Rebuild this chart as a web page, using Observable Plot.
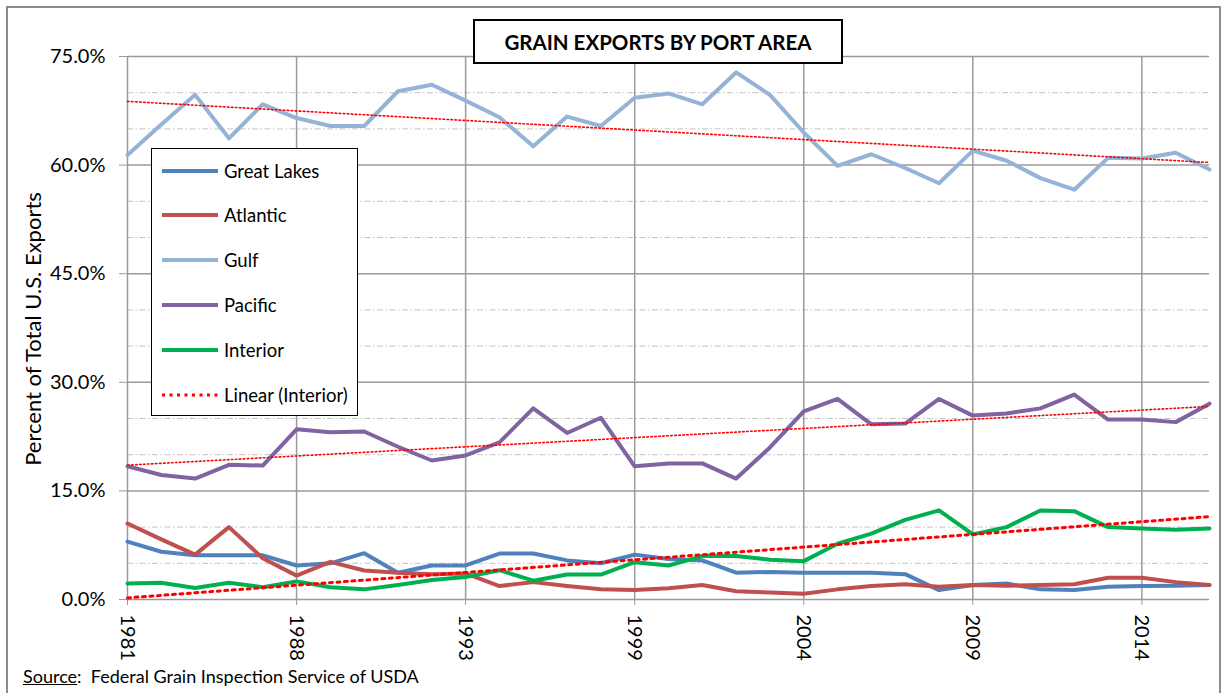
<!DOCTYPE html>
<html><head><meta charset="utf-8">
<script src="https://cdn.jsdelivr.net/npm/d3@7"></script>
<script src="https://cdn.jsdelivr.net/npm/@observablehq/plot@0.6"></script>
<style>
body{margin:0;background:#fff;font-family:Lato,"Open Sans",sans-serif;color:#000;}
#wrap{position:relative;width:1223px;height:693px;overflow:hidden;background:#fff;}
#chart{position:absolute;left:0;top:0;}
#frame{position:absolute;left:6px;top:6px;width:1215px;height:720px;border:2px solid #8c8c8c;box-sizing:border-box;pointer-events:none;}
#title{position:absolute;left:473px;top:19px;width:370px;height:45px;border:2px solid #000;box-sizing:border-box;background:#fff;font-weight:bold;font-size:20.5px;display:flex;align-items:center;justify-content:center;}
#legend{position:absolute;left:151px;top:148px;width:207px;height:268px;border:1.5px solid #000;background:#fff;box-sizing:border-box;}
.item{position:absolute;left:9px;height:22px;display:flex;align-items:center;font-size:18.5px;white-space:nowrap;}
.item svg{margin-right:5px;}
#ylabel{position:absolute;left:32px;top:329px;transform:translate(-50%,-50%) rotate(-90deg);font-size:22px;white-space:nowrap;}
#source{position:absolute;left:23px;top:665px;font-size:18px;white-space:nowrap;}
</style>
</head><body>
<div id="wrap">
  <div id="chart"></div>
  <div id="title">GRAIN EXPORTS BY PORT AREA</div>
  <div id="legend"></div>
  <div id="ylabel">Percent of Total U.S. Exports</div>
  <div id="source"><u>Source</u>:&nbsp; Federal Grain Inspection Service of USDA</div>
  <div id="frame"></div>
</div>
<script>
// ---- Data (percent of total U.S. grain exports) ----
const xTickIndex = [0, 5, 10, 15, 20, 25, 30];
const xTickLabels = ["1981", "1988", "1993", "1999", "2004", "2009", "2014"];
const yMajor = [0, 15, 30, 45, 60, 75];
const yMinor = [5, 10, 20, 25, 35, 40, 50, 55, 65, 70];

const seriesNames = ["Great Lakes", "Atlantic", "Gulf", "Pacific", "Interior"];
const greatLakes = [8.0,6.6,6.1,6.1,6.1,4.7,5.0,6.4,3.7,4.7,4.7,6.35,6.35,5.4,5.0,6.2,5.6,5.4,3.7,3.8,3.7,3.7,3.7,3.5,1.3,2.0,2.2,1.4,1.3,1.75,1.85,1.9,2.0];
const atlantic   = [10.5,8.3,6.2,10.0,5.7,3.3,5.2,4.0,3.7,3.5,3.6,1.85,2.4,1.85,1.4,1.3,1.55,2.0,1.15,0.95,0.8,1.4,1.85,2.1,1.75,2.0,1.9,2.0,2.1,3.0,3.0,2.4,2.0];
const gulf       = [61.4,65.6,69.7,63.7,68.4,66.5,65.4,65.4,70.2,71.1,68.9,66.6,62.6,66.7,65.4,69.3,69.9,68.4,72.8,69.7,64.5,59.9,61.5,59.6,57.5,62.0,60.6,58.2,56.6,61.0,60.9,61.7,59.4];
const pacific    = [18.4,17.2,16.7,18.6,18.5,23.5,23.1,23.2,21.1,19.2,19.9,21.7,26.4,23.0,25.1,18.4,18.8,18.8,16.7,21.0,26.0,27.7,24.2,24.3,27.7,25.4,25.7,26.4,28.3,24.85,24.85,24.5,27.05];
const interior   = [2.2,2.3,1.6,2.3,1.7,2.5,1.7,1.4,2.0,2.7,3.1,4.05,2.6,3.45,3.45,5.15,4.7,6.0,6.0,5.5,5.3,7.7,9.1,11.0,12.3,9.0,10.0,12.3,12.2,10.0,9.8,9.65,9.8];
const trendLabel = "Linear (Interior)";

// ---- Styles ----
const seriesValues = [greatLakes, atlantic, gulf, pacific, interior];
const seriesColors = ["#4F81BD", "#C0504D", "#95B3D7", "#8064A2", "#00B050"];
const trendColor = "#FF0000";
const thinTrend = {stroke: trendColor, strokeWidth: 1.6, strokeDasharray: "1.6,2.4"};
const thickTrend = {stroke: trendColor, strokeWidth: 3, strokeDasharray: "3,4.5"};

const X = (d, i) => i, Y = d => d;

const chart = Plot.plot({
  width: 1223,
  height: 693,
  marginLeft: 127,
  marginRight: 14,
  marginTop: 56,
  marginBottom: 94,
  x: {domain: [0, 32]},
  y: {domain: [0, 75]},
  style: {fontFamily: "Lato, 'Open Sans', sans-serif", fontSize: "20px", background: "transparent", color: "#000"},
  marks: [
    Plot.ruleY(yMinor, {stroke: "#c4c4c4", strokeWidth: 1, strokeDasharray: "6,2.5,1.5,2.5"}),
    Plot.ruleY(yMajor, {stroke: "#9a9a9a", strokeWidth: 1.5}),
    Plot.ruleX(xTickIndex, {stroke: "#9a9a9a", strokeWidth: 1.5}),
    Plot.axisY({ticks: yMajor, tickFormat: d => d.toFixed(1) + "%", tickSize: 8, tickPadding: 14, stroke: "#9a9a9a", fill: "#000", label: null, fontSize: 20}),
    Plot.axisX({ticks: xTickIndex, tickFormat: i => xTickLabels[xTickIndex.indexOf(i)], tickRotate: 90, tickSize: 6, tickPadding: 9, stroke: "#9a9a9a", fill: "#000", label: null, fontSize: 20}),
    ...seriesValues.map((vals, k) => Plot.line(vals, {x: X, y: Y, stroke: seriesColors[k], strokeWidth: 4, strokeLinejoin: "round"})),
    Plot.linearRegressionY(gulf, {x: X, y: Y, ci: 0, ...thinTrend}),
    Plot.linearRegressionY(pacific, {x: X, y: Y, ci: 0, ...thinTrend}),
    Plot.linearRegressionY(interior, {x: X, y: Y, ci: 0, ...thickTrend})
  ]
});
document.getElementById("chart").appendChild(chart);

// ---- Legend ----
const legend = document.getElementById("legend");
const rowsY = [22, 66, 111, 156, 201, 246];
const entries = seriesNames.map((n, k) => ({name: n, color: seriesColors[k], dash: null, w: 4}))
  .concat([{name: trendLabel, color: trendColor, dash: "3,4.5", w: 3}]);
entries.forEach((e, k) => {
  const div = document.createElement("div");
  div.className = "item";
  div.style.top = (rowsY[k] - 11) + "px";
  div.innerHTML = `<svg width="58" height="8"><line x1="1" y1="4" x2="57" y2="4" stroke="${e.color}" stroke-width="${e.w}" ${e.dash ? `stroke-dasharray="${e.dash}"` : ""}/></svg><span>${e.name}</span>`;
  legend.appendChild(div);
});
</script>
</body></html>
